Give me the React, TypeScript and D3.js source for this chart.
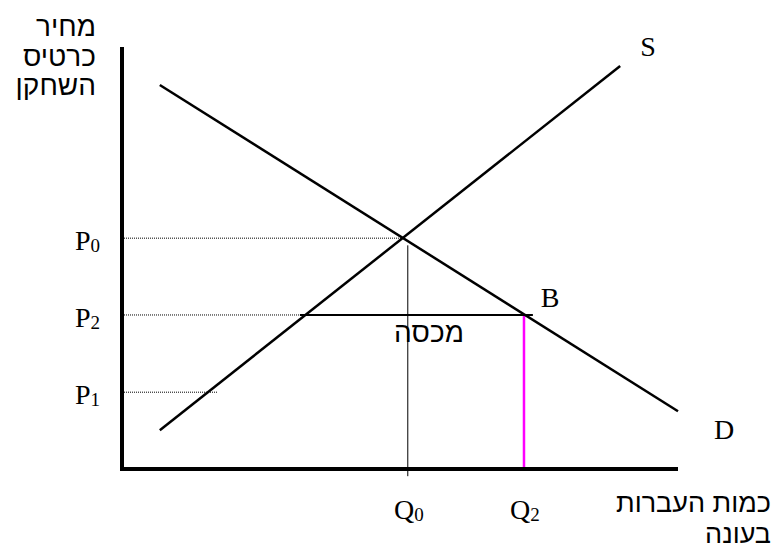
import React from 'react';
import * as d3 from 'd3';

// supply and demand lines (quantity, price) on a 0-100 scale
const supplyQ = [6.8, 89.6];
const supplyP = [9.2, 95.5];
const demandQ = [6.8, 100];
const demandP = [91, 13.7];

// price levels on the y axis
const priceLabels = ['P', 'P', 'P'];
const priceSubs = ['0', '2', '1'];
const priceValues = [54.7, 36.5, 18.2];
// how far each dotted guide runs to the right
const priceGuideEnd = [50.5, 32, 17.1];

// quantities on the x axis
const qtyLabels = ['Q', 'Q'];
const qtySubs = ['0', '2'];
const qtyValues = [51.4, 72.3];

// tax segment (horizontal at P2)
const taxFrom = 32;
const taxTo = 73.9;

const W = 773, H = 549;

export default function App() {
  const x = d3.scaleLinear().domain([0, 100]).range([122, 678]);
  const y = d3.scaleLinear().domain([0, 100]).range([469, 47]);

  const line = d3.line<[number, number]>()
    .x(d => x(d[0]))
    .y(d => y(d[1]));

  const supply: [number, number][] = supplyQ.map((q, i) => [q, supplyP[i]]);
  const demand: [number, number][] = demandQ.map((q, i) => [q, demandP[i]]);

  const hebFont = '"Liberation Sans", Arial, sans-serif';
  const serif = '"Liberation Serif", "Times New Roman", serif';

  return (
    <svg width={W} height={H} style={{ position: 'absolute', left: 0, top: 0 }}>
      <rect width={W} height={H} fill="#fff" />

      {/* dotted guides from the y axis */}
      {priceValues.map((p, i) => (
        <line key={'g' + i} x1={x(0)} x2={x(priceGuideEnd[i])} y1={y(p)} y2={y(p)}
          stroke="#000" strokeWidth={1} strokeDasharray="1,1" />
      ))}

      {/* Q0 vertical */}
      <line x1={x(qtyValues[0])} x2={x(qtyValues[0])} y1={y(53)} y2={y(-1.7)} stroke="#000" strokeWidth={1} />

      {/* Q2 magenta */}
      <line x1={x(qtyValues[1])} x2={x(qtyValues[1])} y1={y(priceValues[1])} y2={y(0)} stroke="#ff00ff" strokeWidth={2.5} />

      {/* tax segment */}
      <line x1={x(taxFrom)} x2={x(taxTo)} y1={y(priceValues[1])} y2={y(priceValues[1])} stroke="#000" strokeWidth={2} />

      <path d={line(supply) || ''} fill="none" stroke="#000" strokeWidth={2.5} />
      <path d={line(demand) || ''} fill="none" stroke="#000" strokeWidth={2.5} />

      {/* axes */}
      <line x1={x(0)} x2={x(0)} y1={47} y2={y(0) + 2} stroke="#000" strokeWidth={4} />
      <line x1={x(0) - 2} x2={x(100)} y1={y(0)} y2={y(0)} stroke="#000" strokeWidth={4} />

      {/* price labels */}
      {priceValues.map((p, i) => (
        <text key={'p' + i} x={100} y={y(p) + 12} textAnchor="end" fontFamily={serif} fontSize={28}>
          {priceLabels[i]}
          <tspan fontSize={19} dy={2}>{priceSubs[i]}</tspan>
        </text>
      ))}

      {/* quantity labels */}
      {qtyValues.map((q, i) => (
        <text key={'q' + i} x={x(q) + 1} y={519} textAnchor="middle" fontFamily={serif} fontSize={28}>
          {qtyLabels[i]}
          <tspan fontSize={19} dy={2}>{qtySubs[i]}</tspan>
        </text>
      ))}

      <text x={648} y={56} fontFamily={serif} fontSize={28} textAnchor="middle">S</text>
      <text x={550} y={307} fontFamily={serif} fontSize={28} textAnchor="middle">B</text>
      <text x={724} y={439} fontFamily={serif} fontSize={28} textAnchor="middle">D</text>

      {/* Hebrew labels */}
      <g fontFamily={hebFont} fontSize={28} textAnchor="end">
        <text x={96} y={36}>מחיר</text>
        <text x={96} y={66}>כרטיס</text>
        <text x={96} y={95}>השחקן</text>
        <text x={429} y={342} textAnchor="middle">מכסה</text>
      </g>
      <g fontFamily={hebFont} fontSize={27} textAnchor="end">
        <text x={771} y={512}>כמות העברות</text>
        <text x={771} y={543}>בעונה</text>
      </g>
    </svg>
  );
}
